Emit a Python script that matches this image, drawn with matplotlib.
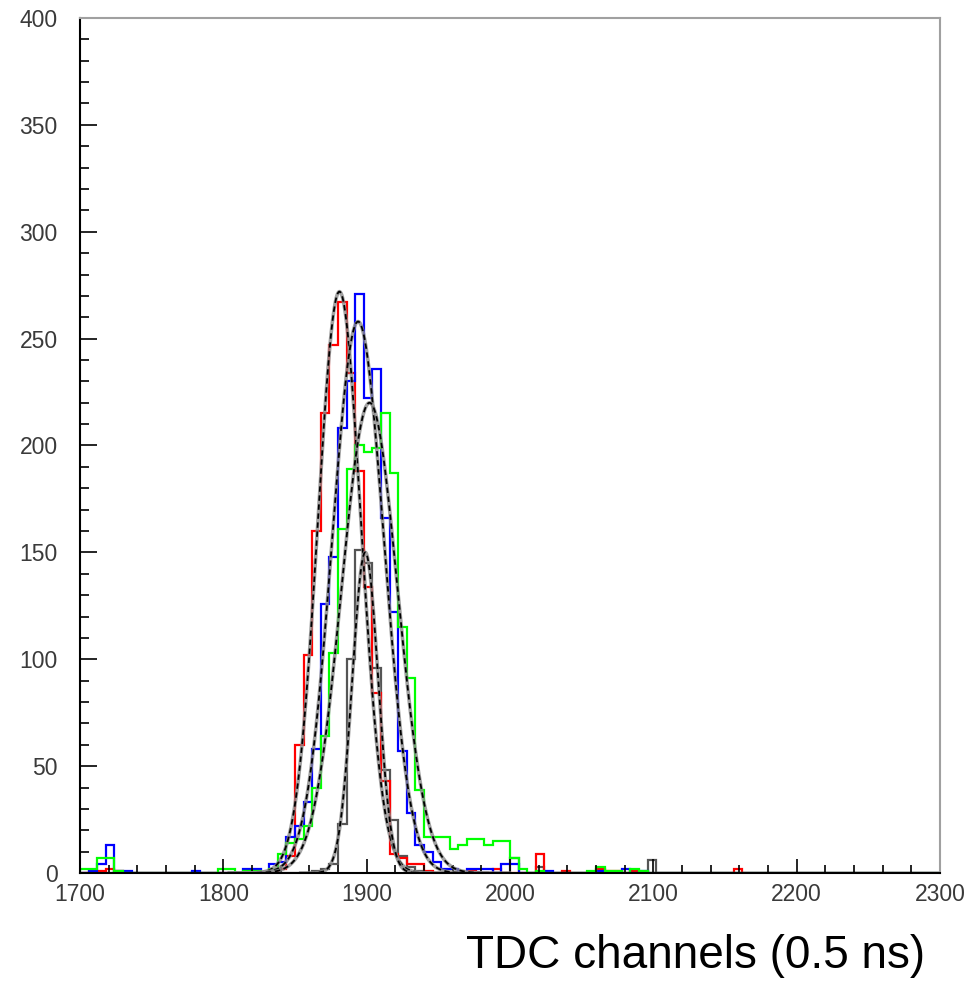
import numpy as np
import matplotlib
matplotlib.use('Agg')
import matplotlib.pyplot as plt
from matplotlib.ticker import MultipleLocator

# TDC histograms, 100 bins of 6 channels from 1700 to 2300
edges = np.arange(1700, 2301, 6)

red = [0, 1, 1, 2, 1, 0, 0, 0, 0, 0,
       0, 0, 0, 0, 0, 0, 0, 0, 0, 0,
       0, 0, 0, 2, 8, 60, 102, 160, 215, 247,
       267, 234, 188, 134, 84, 43, 9, 7, 4, 4,
       1, 0, 0, 0, 0, 1, 0, 0, 2, 0,
       0, 0, 0, 9, 0, 0, 1, 0, 0, 0,
       2, 1, 1, 0, 1, 0, 0, 0, 0, 0,
       0, 0, 0, 0, 0, 0, 2, 0, 0, 0,
       0, 0, 0, 0, 0, 0, 0, 0, 0, 0,
       0, 0, 0, 0, 0, 0, 0, 0, 0, 0]

blue = [0, 1, 4, 13, 1, 1, 0, 0, 0, 0,
        0, 0, 0, 1, 0, 0, 0, 0, 0, 2,
        2, 0, 4, 5, 17, 22, 33, 58, 126, 148,
        208, 230, 271, 222, 236, 166, 122, 57, 28, 13,
        10, 5, 2, 2, 0, 2, 2, 2, 0, 4,
        4, 0, 0, 0, 1, 0, 0, 0, 0, 0,
        1, 0, 0, 2, 0, 1, 0, 0, 0, 0,
        0, 0, 0, 0, 0, 0, 0, 0, 0, 0,
        0, 0, 0, 0, 0, 0, 0, 0, 0, 0,
        0, 0, 0, 0, 0, 0, 0, 0, 0, 0]

green = [2, 2, 7, 7, 1, 0, 0, 0, 0, 0,
         0, 0, 0, 0, 0, 0, 2, 2, 0, 1,
         1, 0, 2, 9, 14, 16, 22, 40, 64, 103,
         161, 189, 200, 197, 199, 215, 187, 115, 91, 39,
         17, 17, 17, 11, 13, 16, 16, 13, 15, 15,
         7, 2, 0, 1, 0, 0, 0, 0, 0, 1,
         3, 1, 1, 0, 2, 1, 0, 0, 0, 0,
         0, 0, 0, 0, 0, 0, 0, 0, 0, 0,
         0, 0, 0, 0, 0, 0, 0, 0, 0, 0,
         0, 0, 0, 0, 0, 0, 0, 0, 0, 0]

black = [0, 0, 0, 0, 0, 0, 0, 0, 0, 0,
         0, 0, 0, 0, 0, 0, 0, 0, 0, 0,
         0, 0, 0, 0, 0, 0, 0, 1, 2, 4,
         23, 100, 151, 145, 96, 48, 25, 8, 3, 1,
         0, 0, 0, 0, 0, 0, 0, 0, 0, 0,
         7, 0, 0, 3, 0, 0, 0, 0, 0, 0,
         0, 0, 0, 0, 0, 0, 6, 0, 0, 0,
         0, 0, 0, 0, 0, 0, 0, 0, 0, 0,
         0, 0, 0, 0, 0, 0, 0, 0, 0, 0,
         0, 0, 0, 0, 0, 0, 0, 0, 0, 0]

# gaussian fit parameters (amplitude, mean, sigma)
fits = [(272, 1881, 15), (258, 1894, 18), (220, 1902, 19.5), (150, 1899, 9)]

fig = plt.figure(figsize=(9.71, 9.82), dpi=100)
ax = fig.add_axes([80/971, 109/982, 860/971, 855/982])

ax.stairs(black, edges, color='#555555', linewidth=1.6)
ax.stairs(red, edges, color='#ff0000', linewidth=1.6)
ax.stairs(blue, edges, color='#0000ff', linewidth=1.6)
ax.stairs(green, edges, color='#00ff00', linewidth=1.6)

for amp, mu, sig in fits:
    xs = np.linspace(mu - 5*sig, mu + 5*sig, 300)
    ys = amp * np.exp(-0.5 * ((xs - mu) / sig) ** 2)
    ax.plot(xs, ys, color='#8a8a8a', linewidth=2.6, alpha=0.8)
    ax.plot(xs, ys, color='black', linewidth=1.3, dashes=(3, 2))

ax.set_xlim(1700, 2300)
ax.set_ylim(0, 400)
ax.xaxis.set_major_locator(MultipleLocator(100))
ax.xaxis.set_minor_locator(MultipleLocator(20))
ax.yaxis.set_major_locator(MultipleLocator(50))
ax.yaxis.set_minor_locator(MultipleLocator(10))

ax.tick_params(axis='x', which='major', direction='in', length=10, width=1.2, pad=7,
               labelsize=16.5, labelcolor='#3a3a3a', top=False)
ax.tick_params(axis='x', which='minor', direction='in', length=6, width=1.2, top=False)
ax.tick_params(axis='y', which='major', direction='in', length=12, width=1.2, pad=16,
               labelsize=16.5, labelcolor='#3a3a3a', right=False)
ax.tick_params(axis='y', which='minor', direction='in', length=6.5, width=1.2, right=False)
for lab in ax.get_xticklabels() + ax.get_yticklabels():
    lab.set_fontfamily('Liberation Sans')

ax.spines['left'].set_linewidth(1.5)
ax.spines['bottom'].set_linewidth(1.5)
ax.spines['top'].set_color('#a0a0a0')
ax.spines['right'].set_color('#a0a0a0')
ax.spines['top'].set_linewidth(1.5)
ax.spines['right'].set_linewidth(1.5)

fig.text(925/971, 14/982, 'TDC channels (0.5 ns)', ha='right', va='baseline',
         fontsize=33, family='Liberation Sans', color='black')

fig.savefig('out.png', dpi=100)
